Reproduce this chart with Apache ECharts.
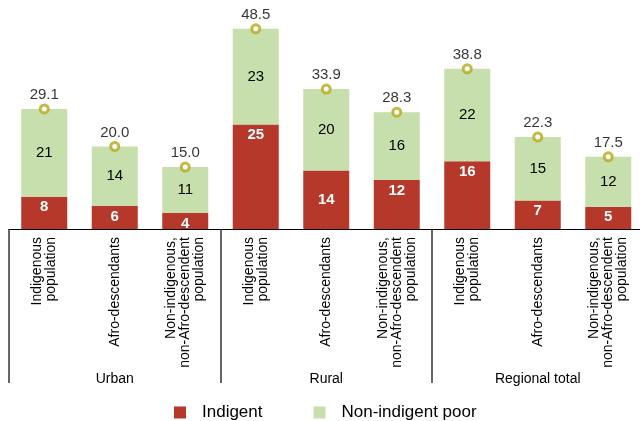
<!DOCTYPE html>
<html>
<head>
<meta charset="utf-8">
<script src="https://cdn.jsdelivr.net/npm/echarts@6/dist/echarts.min.js"></script>
<style>
html,body{margin:0;padding:0;background:#fff;}
#chart{width:640px;height:421px;}
</style>
</head>
<body>
<div id="chart"></div>
<script>
var categories = [
  "Indigenous\npopulation", "Afro-descendants", "Non-indigenous,\nnon-Afro-descendent\npopulation",
  "Indigenous\npopulation", "Afro-descendants", "Non-indigenous,\nnon-Afro-descendent\npopulation",
  "Indigenous\npopulation", "Afro-descendants", "Non-indigenous,\nnon-Afro-descendent\npopulation"
];
var groups = ["Urban", "Rural", "Regional total"];
var indigent = [7.8, 5.6, 3.9, 25.3, 14.2, 11.9, 16.4, 6.9, 5.4];
var nonIndigentPoor = [21.3, 14.4, 11.1, 23.2, 19.7, 16.4, 22.4, 15.4, 12.1];
var totals = [29.1, 20.0, 15.0, 48.5, 33.9, 28.3, 38.8, 22.3, 17.5];

var FONT = "Liberation Sans, Arial, sans-serif";
var RED = "#b5382b", GREEN = "#c6dfac", OLIVE = "#b5a81a";

var chart = echarts.init(document.getElementById("chart"), null, {renderer: "canvas"});

var indigentData = indigent.map(function (v, i) {
  var d = {value: v};
  if (i === 4) d.label = {position: "inside", distance: 0};
  return d;
});

chart.setOption({
  animation: false,
  textStyle: {fontFamily: FONT},
  grid: {left: 9, top: 2, right: -3.5, bottom: 192, containLabel: false, outerBoundsMode: "none"},
  legend: {
    data: ["Indigent", "Non-indigent poor"],
    left: 169, top: 399,
    icon: "rect", itemWidth: 12, itemHeight: 12, itemGap: 51,
    textStyle: {fontFamily: FONT, fontSize: 17, color: "#000", padding: [0, 0, 0, 11]}
  },
  xAxis: [{
    type: "category", data: categories, position: "bottom",
    axisLine: {lineStyle: {color: "#000", width: 1}},
    axisTick: {show: false},
    axisLabel: {rotate: 90, margin: 8, fontFamily: FONT, fontSize: 14, lineHeight: 14, color: "#000", interval: 0}
  }, {
    type: "category", data: groups, position: "bottom", gridIndex: 0,
    axisLine: {show: false},
    axisTick: {show: true, length: 154, lineStyle: {color: "#333", width: 1.5}},
    axisLabel: {margin: 143, fontFamily: FONT, fontSize: 14, color: "#000"}
  }],
  yAxis: {type: "value", min: 0, max: 55, show: false, splitLine: {show: false}},
  series: [{
    name: "Indigent", type: "bar", stack: "p", barWidth: 46, xAxisIndex: 0,
    data: indigentData,
    itemStyle: {color: RED},
    label: {show: true, position: "insideTop", distance: 3, color: "#fff", fontWeight: "bold",
      fontSize: 15, fontFamily: FONT, formatter: function (p) { return Math.round(p.value); }}
  }, {
    name: "Non-indigent poor", type: "bar", stack: "p", barWidth: 46, xAxisIndex: 0,
    data: nonIndigentPoor,
    itemStyle: {color: GREEN},
    label: {show: true, position: "inside", color: "#000", fontSize: 15, fontFamily: FONT,
      formatter: function (p) { return Math.round(p.value); }}
  }, {
    name: "Total", type: "scatter", xAxisIndex: 0,
    data: totals, symbol: "circle", symbolSize: 8, z: 5,
    itemStyle: {color: "#fff", borderColor: OLIVE, borderWidth: 3},
    label: {show: true, position: "top", distance: 1, color: "#000", fontSize: 15, fontFamily: FONT,
      formatter: function (p) { return p.value.toFixed(1); }}
  }]
});
</script>
</body>
</html>
